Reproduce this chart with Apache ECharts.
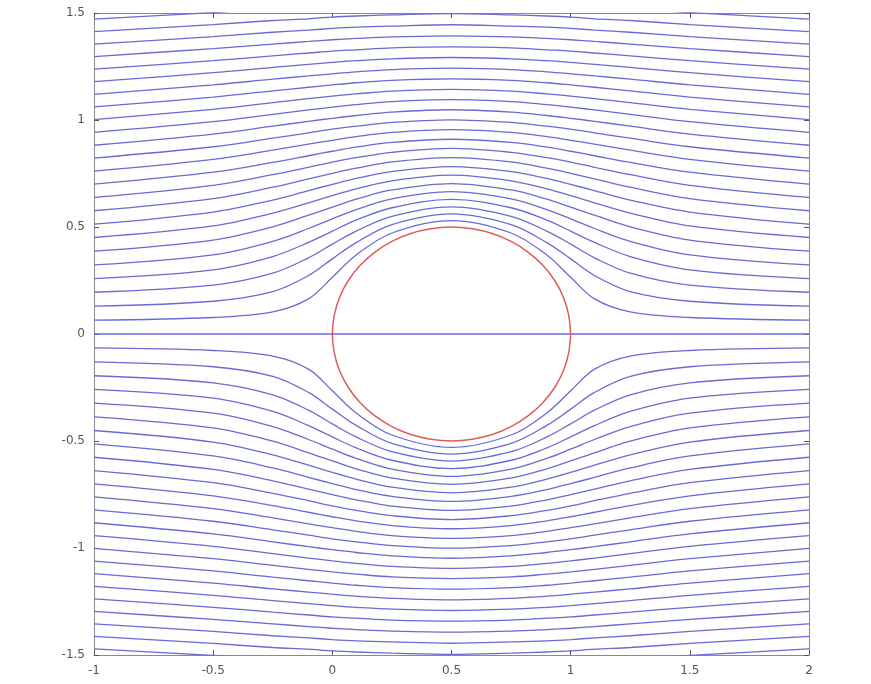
<!DOCTYPE html>
<html>
<head>
<meta charset="utf-8">
<script src="https://cdn.jsdelivr.net/npm/echarts@6/dist/echarts.min.js"></script>
<style>
html,body{margin:0;padding:0;background:#fff;}
#chart{width:871px;height:684px;}
</style>
</head>
<body>
<div id="chart"></div>
<script>
// x positions where each streamline's height was read
const xs = [-1, -0.5, -0.25, -0.1, 0, 0.1, 0.25, 0.5, 0.75, 0.9, 1, 1.1, 1.25, 1.5, 2];

// streamlines above the axis (y values at xs)
const upperLines = [
  [0.065,0.077,0.103,0.164,0.265,0.369,0.472,0.530,0.472,0.369,0.265,0.164,0.103,0.077,0.065],
  [0.130,0.153,0.198,0.273,0.351,0.427,0.511,0.561,0.511,0.427,0.351,0.273,0.198,0.153,0.130],
  [0.195,0.228,0.284,0.356,0.420,0.481,0.550,0.594,0.550,0.481,0.420,0.356,0.284,0.228,0.195],
  [0.259,0.300,0.362,0.428,0.481,0.532,0.590,0.629,0.590,0.532,0.481,0.428,0.362,0.300,0.259],
  [0.323,0.370,0.433,0.493,0.538,0.581,0.631,0.665,0.631,0.581,0.538,0.493,0.433,0.370,0.323],
  [0.387,0.439,0.501,0.555,0.593,0.630,0.673,0.703,0.673,0.630,0.593,0.555,0.501,0.439,0.387],
  [0.451,0.505,0.565,0.613,0.647,0.678,0.716,0.742,0.716,0.678,0.647,0.613,0.565,0.505,0.451],
  [0.513,0.570,0.626,0.670,0.699,0.727,0.759,0.782,0.759,0.727,0.699,0.670,0.626,0.570,0.513],
  [0.576,0.633,0.686,0.725,0.751,0.775,0.804,0.824,0.804,0.775,0.751,0.725,0.686,0.633,0.576],
  [0.638,0.695,0.745,0.779,0.803,0.824,0.849,0.867,0.849,0.824,0.803,0.779,0.745,0.695,0.638],
  [0.700,0.756,0.802,0.833,0.854,0.873,0.895,0.910,0.895,0.873,0.854,0.833,0.802,0.756,0.700],
  [0.761,0.816,0.859,0.887,0.905,0.922,0.942,0.955,0.942,0.922,0.905,0.887,0.859,0.816,0.761],
  [0.822,0.875,0.915,0.940,0.957,0.971,0.989,1.001,0.989,0.971,0.957,0.940,0.915,0.875,0.822],
  [0.882,0.934,0.971,0.994,1.008,1.021,1.037,1.048,1.037,1.021,1.008,0.994,0.971,0.934,0.882],
  [0.942,0.992,1.026,1.047,1.060,1.072,1.086,1.095,1.086,1.072,1.060,1.047,1.026,0.992,0.942],
  [1.002,1.050,1.081,1.100,1.112,1.122,1.135,1.143,1.135,1.122,1.112,1.100,1.081,1.050,1.002],
  [1.061,1.107,1.136,1.153,1.164,1.174,1.185,1.192,1.185,1.174,1.164,1.153,1.136,1.107,1.061],
  [1.120,1.164,1.191,1.206,1.216,1.225,1.235,1.242,1.235,1.225,1.216,1.206,1.191,1.164,1.120],
  [1.179,1.221,1.246,1.260,1.269,1.277,1.286,1.292,1.286,1.277,1.269,1.260,1.246,1.221,1.179],
  [1.238,1.277,1.300,1.313,1.322,1.328,1.337,1.342,1.337,1.328,1.322,1.313,1.300,1.277,1.238],
  [1.296,1.334,1.355,1.367,1.375,1.381,1.388,1.393,1.388,1.381,1.375,1.367,1.355,1.334,1.296],
  [1.355,1.390,1.410,1.420,1.428,1.434,1.439,1.445,1.439,1.434,1.428,1.420,1.410,1.390,1.355],
  [1.413,1.446,1.465,1.473,1.481,1.486,1.491,1.497,1.491,1.486,1.481,1.473,1.465,1.446,1.413],
  [1.471,1.502,1.519,1.526,1.534,1.538,1.542,1.548,1.542,1.538,1.534,1.526,1.519,1.502,1.471]
];

// streamlines below the axis (y values at xs)
const lowerLines = [
  [-0.065,-0.077,-0.103,-0.164,-0.265,-0.369,-0.472,-0.530,-0.472,-0.369,-0.265,-0.164,-0.103,-0.077,-0.065],
  [-0.130,-0.153,-0.198,-0.273,-0.351,-0.427,-0.511,-0.561,-0.511,-0.427,-0.351,-0.273,-0.198,-0.153,-0.130],
  [-0.195,-0.228,-0.284,-0.356,-0.420,-0.481,-0.550,-0.594,-0.550,-0.481,-0.420,-0.356,-0.284,-0.228,-0.195],
  [-0.259,-0.300,-0.362,-0.428,-0.481,-0.532,-0.590,-0.629,-0.590,-0.532,-0.481,-0.428,-0.362,-0.300,-0.259],
  [-0.323,-0.370,-0.433,-0.493,-0.538,-0.581,-0.631,-0.665,-0.631,-0.581,-0.538,-0.493,-0.433,-0.370,-0.323],
  [-0.387,-0.439,-0.501,-0.555,-0.593,-0.630,-0.673,-0.703,-0.673,-0.630,-0.593,-0.555,-0.501,-0.439,-0.387],
  [-0.451,-0.505,-0.565,-0.613,-0.647,-0.678,-0.716,-0.742,-0.716,-0.678,-0.647,-0.613,-0.565,-0.505,-0.451],
  [-0.513,-0.570,-0.626,-0.670,-0.699,-0.727,-0.759,-0.782,-0.759,-0.727,-0.699,-0.670,-0.626,-0.570,-0.513],
  [-0.576,-0.633,-0.686,-0.725,-0.751,-0.775,-0.804,-0.824,-0.804,-0.775,-0.751,-0.725,-0.686,-0.633,-0.576],
  [-0.638,-0.695,-0.745,-0.779,-0.803,-0.824,-0.849,-0.867,-0.849,-0.824,-0.803,-0.779,-0.745,-0.695,-0.638],
  [-0.700,-0.756,-0.802,-0.833,-0.854,-0.873,-0.895,-0.910,-0.895,-0.873,-0.854,-0.833,-0.802,-0.756,-0.700],
  [-0.761,-0.816,-0.859,-0.887,-0.905,-0.922,-0.942,-0.955,-0.942,-0.922,-0.905,-0.887,-0.859,-0.816,-0.761],
  [-0.822,-0.875,-0.915,-0.940,-0.957,-0.971,-0.989,-1.001,-0.989,-0.971,-0.957,-0.940,-0.915,-0.875,-0.822],
  [-0.882,-0.934,-0.971,-0.994,-1.008,-1.021,-1.037,-1.048,-1.037,-1.021,-1.008,-0.994,-0.971,-0.934,-0.882],
  [-0.942,-0.992,-1.026,-1.047,-1.060,-1.072,-1.086,-1.095,-1.086,-1.072,-1.060,-1.047,-1.026,-0.992,-0.942],
  [-1.002,-1.050,-1.081,-1.100,-1.112,-1.122,-1.135,-1.143,-1.135,-1.122,-1.112,-1.100,-1.081,-1.050,-1.002],
  [-1.061,-1.107,-1.136,-1.153,-1.164,-1.174,-1.185,-1.192,-1.185,-1.174,-1.164,-1.153,-1.136,-1.107,-1.061],
  [-1.120,-1.164,-1.191,-1.206,-1.216,-1.225,-1.235,-1.242,-1.235,-1.225,-1.216,-1.206,-1.191,-1.164,-1.120],
  [-1.179,-1.221,-1.246,-1.260,-1.269,-1.277,-1.286,-1.292,-1.286,-1.277,-1.269,-1.260,-1.246,-1.221,-1.179],
  [-1.238,-1.277,-1.300,-1.313,-1.322,-1.328,-1.337,-1.342,-1.337,-1.328,-1.322,-1.313,-1.300,-1.277,-1.238],
  [-1.296,-1.334,-1.355,-1.367,-1.375,-1.381,-1.388,-1.393,-1.388,-1.381,-1.375,-1.367,-1.355,-1.334,-1.296],
  [-1.355,-1.390,-1.410,-1.420,-1.428,-1.434,-1.439,-1.445,-1.439,-1.434,-1.428,-1.420,-1.410,-1.390,-1.355],
  [-1.413,-1.446,-1.465,-1.473,-1.481,-1.486,-1.491,-1.497,-1.491,-1.486,-1.481,-1.473,-1.465,-1.446,-1.413],
  [-1.471,-1.502,-1.519,-1.526,-1.534,-1.538,-1.542,-1.548,-1.542,-1.538,-1.534,-1.526,-1.519,-1.502,-1.471]
];

// dividing streamline on the axis
const axisLine = [0,0,0,0,0,0,0,0,0,0,0,0,0,0,0];

// cylinder outline (x, y) read around the circle
const circleX = [1,0.992,0.970,0.933,0.883,0.821,0.75,0.671,0.587,0.5,0.413,0.329,0.25,0.179,0.117,0.067,0.030,0.008,0,
                 0.008,0.030,0.067,0.117,0.179,0.25,0.329,0.413,0.5,0.587,0.671,0.75,0.821,0.883,0.933,0.970,0.992,1];
const circleY = [0,0.087,0.171,0.25,0.321,0.383,0.433,0.470,0.492,0.5,0.492,0.470,0.433,0.383,0.321,0.25,0.171,0.087,0,
                 -0.087,-0.171,-0.25,-0.321,-0.383,-0.433,-0.470,-0.492,-0.5,-0.492,-0.470,-0.433,-0.383,-0.321,-0.25,-0.171,-0.087,0];

// tick labels
const xTicks = [-1, -0.5, 0, 0.5, 1, 1.5, 2];
const yTicks = [-1.5, -1, -0.5, 0, 0.5, 1, 1.5];

const lineColor = '#6a6ad4';
const circleColor = '#e05a5a';

function streamSeries(ys) {
  return {
    type: 'line',
    data: xs.map((x, i) => [x, ys[i]]),
    smooth: 0.35,
    showSymbol: false,
    symbol: 'none',
    silent: true,
    clip: true,
    lineStyle: { color: lineColor, width: 1.3 },
    z: 2
  };
}

const series = [];
upperLines.forEach(l => series.push(streamSeries(l)));
lowerLines.forEach(l => series.push(streamSeries(l)));
series.push(streamSeries(axisLine));
series.push({
  type: 'line',
  data: circleX.map((x, i) => [x, circleY[i]]),
  smooth: 0.3,
  showSymbol: false,
  symbol: 'none',
  silent: true,
  lineStyle: { color: circleColor, width: 1.5 },
  z: 3
});

const frameColor = '#8a8a8a';
const labelStyle = { color: '#555', fontSize: 12, fontFamily: 'DejaVu Sans' };

const chart = echarts.init(document.getElementById('chart'), null, { renderer: 'canvas' });
chart.setOption({
  animation: false,
  backgroundColor: '#fff',
  grid: { left: 94, top: 13, width: 715, height: 642, containLabel: false },
  xAxis: [
    {
      type: 'value', min: xTicks[0], max: xTicks[xTicks.length - 1], interval: 0.5,
      position: 'bottom',
      axisLine: { show: true, onZero: false, lineStyle: { color: frameColor, width: 1 } },
      axisTick: { show: true, inside: true, length: 5, lineStyle: { color: '#555' } },
      axisLabel: { ...labelStyle, margin: 10, formatter: v => String(v) },
      splitLine: { show: false }
    },
    {
      type: 'value', min: xTicks[0], max: xTicks[xTicks.length - 1], interval: 0.5,
      position: 'top',
      axisLine: { show: true, onZero: false, lineStyle: { color: frameColor, width: 1 } },
      axisTick: { show: true, inside: true, length: 5, lineStyle: { color: '#555' } },
      axisLabel: { show: false },
      splitLine: { show: false }
    }
  ],
  yAxis: [
    {
      type: 'value', min: yTicks[0], max: yTicks[yTicks.length - 1], interval: 0.5,
      position: 'left',
      axisLine: { show: true, onZero: false, lineStyle: { color: frameColor, width: 1 } },
      axisTick: { show: true, inside: true, length: 5, lineStyle: { color: '#555' } },
      axisLabel: { ...labelStyle, margin: 9, formatter: v => String(v) },
      splitLine: { show: false }
    },
    {
      type: 'value', min: yTicks[0], max: yTicks[yTicks.length - 1], interval: 0.5,
      position: 'right',
      axisLine: { show: true, onZero: false, lineStyle: { color: frameColor, width: 1 } },
      axisTick: { show: true, inside: true, length: 5, lineStyle: { color: '#555' } },
      axisLabel: { show: false },
      splitLine: { show: false }
    }
  ],
  series: series
});
</script>
</body>
</html>
